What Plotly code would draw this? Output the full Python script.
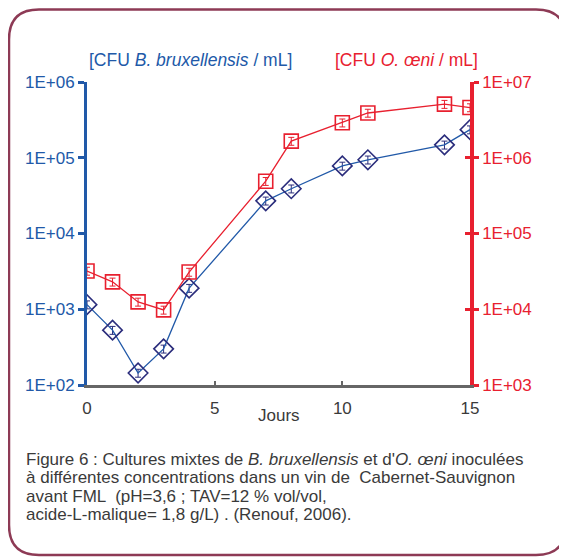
import plotly.graph_objects as go

days_brett = [0, 1, 2, 3, 4, 7, 8, 10, 11, 14, 15]
brett_cfu = [1150, 530, 144, 300, 1900, 27000, 39000, 78000, 94000, 148000, 235000]
days_oeni = [0, 1, 2, 3, 4, 7, 8, 10, 11, 14, 15]
oeni_cfu = [32000, 23000, 12500, 9800, 31000, 490000, 1660000, 2900000, 3900000, 5100000, 4600000]

left_ticks = [1e2, 1e3, 1e4, 1e5, 1e6]
left_labels = ["1E+02", "1E+03", "1E+04", "1E+05", "1E+06"]
right_ticks = [1e3, 1e4, 1e5, 1e6, 1e7]
right_labels = ["1E+03", "1E+04", "1E+05", "1E+06", "1E+07"]
x_ticks = [0, 5, 10, 15]

caption_lines = [
    "Figure 6 : Cultures mixtes de <i>B. bruxellensis</i> et d'<i>O. œni</i> inoculées",
    "à différentes concentrations dans un vin de  Cabernet-Sauvignon",
    "avant FML  (pH=3,6 ; TAV=12 % vol/vol,",
    "acide-L-malique= 1,8 g/L) . (Renouf, 2006).",
]

BLUE = "#2159a8"
NAVY = "#2b2d7c"
RED = "#e8202f"
GRAY = "#3a3a3a"
FONT = "Liberation Sans, Arial, sans-serif"

OFF = 8  # page body margin
W, H = 567 - OFF, 558 - OFF
L, R, T, B = 87, 470, 82, 385  # plot area in screen px


def px(x):
    return (x - L) / (R - L)


def py(y):
    return (B - y) / (B - T)


fig = go.Figure()
fig.add_trace(go.Scatter(
    x=days_brett, y=brett_cfu, mode="lines+markers", yaxis="y",
    line=dict(color=BLUE, width=1.3),
    marker=dict(symbol="diamond-open", size=15, color=NAVY, line=dict(width=1.6, color=NAVY)),
    error_y=dict(type="percent", value=12, color=NAVY, thickness=1, width=3),
    showlegend=False,
))
fig.add_trace(go.Scatter(
    x=days_oeni, y=oeni_cfu, mode="lines+markers", yaxis="y2",
    line=dict(color=RED, width=1.3),
    marker=dict(symbol="square-open", size=14, color=RED, line=dict(width=1.6, color=RED)),
    error_y=dict(type="percent", value=12, color=RED, thickness=1, width=3),
    showlegend=False,
))
fig.add_trace(go.Scatter(x=[None], y=[None], yaxis="y3", showlegend=False, hoverinfo="skip"))

shapes = []
x0, y0, x1, y1, r = 9.0, 9.5, 566, 555, 30
path = (f"M {px(x0)},{py(y0 + r)} Q {px(x0)},{py(y0)} {px(x0 + r)},{py(y0)} "
        f"L {px(x1 - r)},{py(y0)} Q {px(x1)},{py(y0)} {px(x1)},{py(y0 + r)} "
        f"L {px(x1)},{py(y1 - r)} Q {px(x1)},{py(y1)} {px(x1 - r)},{py(y1)} "
        f"L {px(x0 + r)},{py(y1)} Q {px(x0)},{py(y1)} {px(x0)},{py(y1 - r)} Z")
shapes.append(dict(type="path", path=path, xref="paper", yref="paper",
                   line=dict(color="#8d3a55", width=2.5), layer="below"))

annotations = [
    dict(text="[CFU <i>B. bruxellensis</i> / mL]", x=px(87), y=py(60), xanchor="left", yanchor="middle",
         font=dict(color=BLUE, size=17.5, family=FONT)),
    dict(text="[CFU <i>O. œni</i> / mL]", x=px(333), y=py(60), xanchor="left", yanchor="middle",
         font=dict(color=RED, size=17.5, family=FONT)),
    dict(text="Jours", x=px(279), y=py(415), xanchor="center", yanchor="middle",
         font=dict(color=GRAY, size=17, family=FONT)),
]
for i, line in enumerate(caption_lines):
    baseline = 465 + 18.3 * i
    annotations.append(dict(text=line, x=px(25), y=py(baseline - 5.5), xanchor="left", yanchor="middle",
                            align="left", borderpad=0,
                            font=dict(color=GRAY, size=17, family=FONT)))
for a in annotations:
    a.update(xref="paper", yref="paper", showarrow=False)

fig.update_layout(
    width=W, height=H,
    margin=dict(l=L - OFF, r=W + OFF - R, t=T - OFF, b=H + OFF - B, pad=0),
    paper_bgcolor="white", plot_bgcolor="white",
    font=dict(family=FONT),
    shapes=shapes, annotations=annotations,
    xaxis=dict(range=[0, 15], tickvals=x_ticks, ticks="inside", ticklen=4, tickwidth=1.5,
               tickcolor="#666", showline=True, linecolor="#666", linewidth=2.5,
               showgrid=False, zeroline=False, ticklabelstandoff=6,
               tickfont=dict(color=GRAY, size=17, family=FONT)),
    yaxis=dict(type="log", range=[2, 6], tickvals=left_ticks, ticktext=left_labels,
               ticks="outside", ticklen=6, tickwidth=2.5, tickcolor=BLUE,
               showline=True, linecolor=BLUE, linewidth=3, showgrid=False, zeroline=False,
               tickfont=dict(color=BLUE, size=17, family=FONT)),
    yaxis2=dict(type="log", range=[3, 7], tickvals=right_ticks, ticktext=right_labels,
                overlaying="y", side="right", ticks="outside", ticklen=5, tickwidth=2.5,
                tickcolor=RED, showline=True, linecolor=RED, linewidth=3.5, showgrid=False,
                zeroline=False, tickfont=dict(color=RED, size=17, family=FONT)),
    yaxis3=dict(type="log", range=[3, 7], tickvals=right_ticks, overlaying="y", side="right",
                anchor="x", ticks="inside", ticklen=5, tickwidth=2.5, tickcolor=RED,
                showticklabels=False, showline=False, showgrid=False, zeroline=False),
)

fig.write_html("out.html")
